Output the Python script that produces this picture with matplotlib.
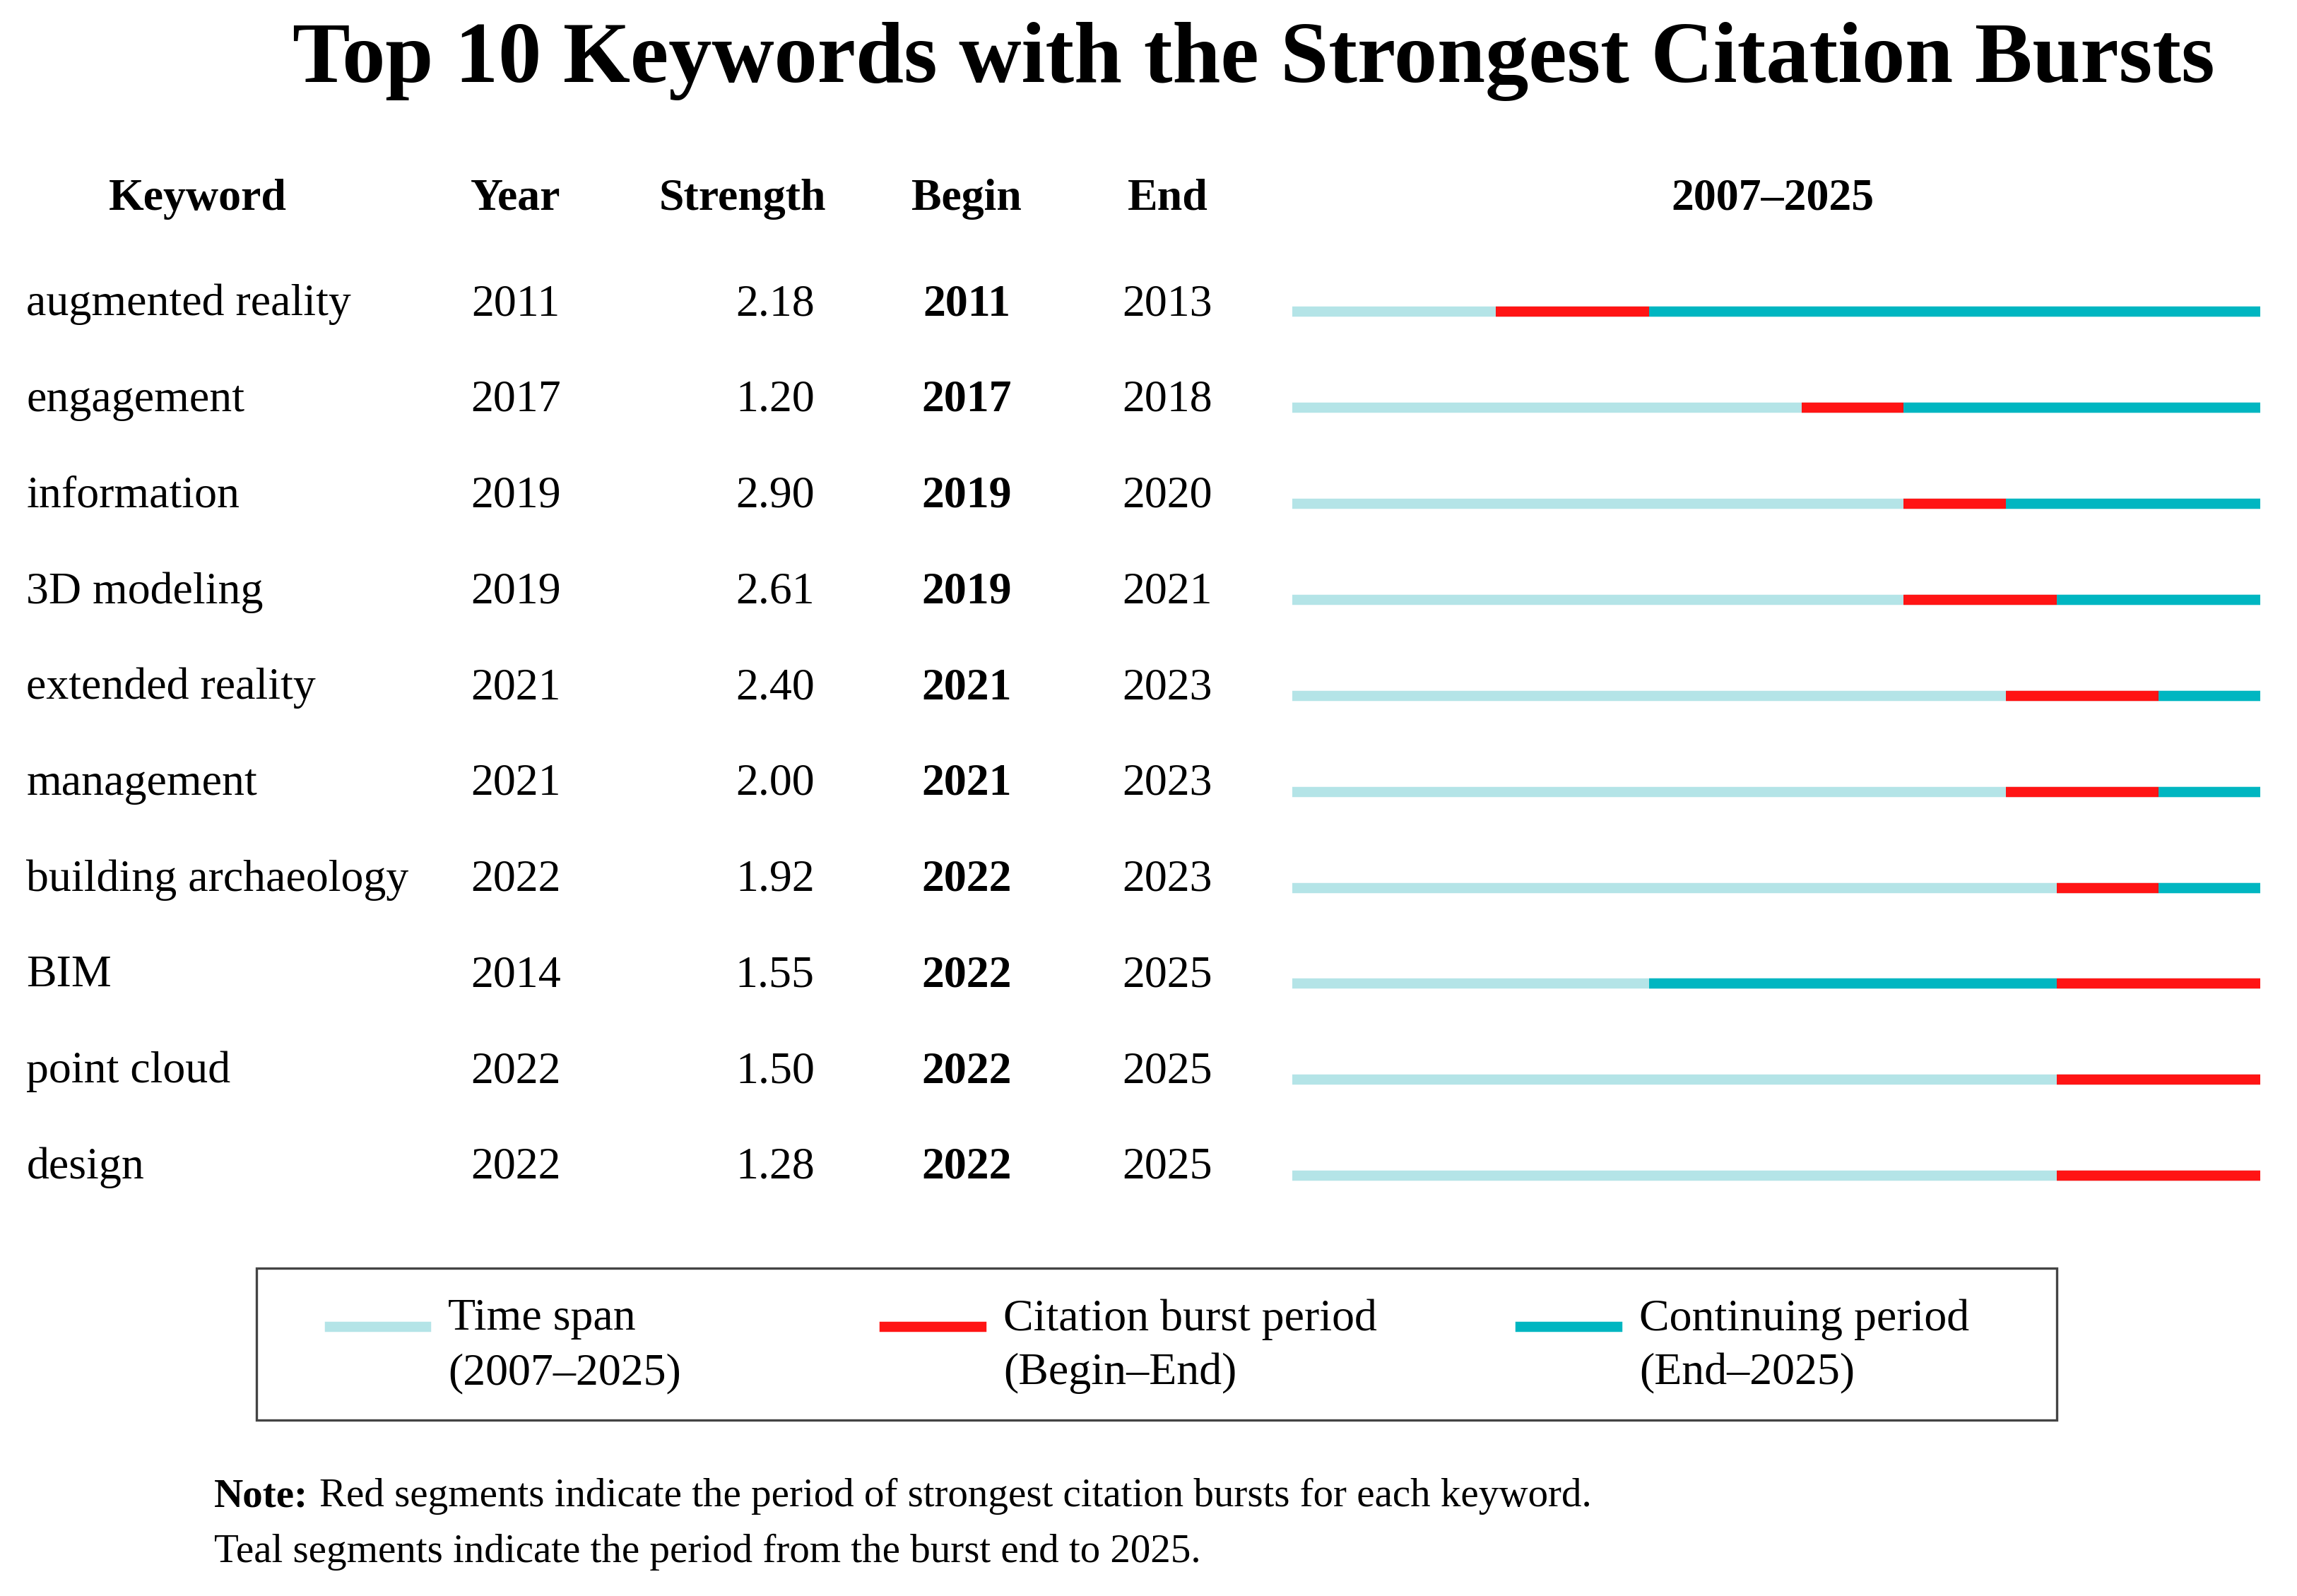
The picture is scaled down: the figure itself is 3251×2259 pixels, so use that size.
import matplotlib.pyplot as plt
from matplotlib.patches import Rectangle

plt.rcParams['font.family'] = ['Liberation Serif', 'DejaVu Serif']

keywords = ["augmented reality", "engagement", "information", "3D modeling",
            "extended reality", "management", "building archaeology", "BIM",
            "point cloud", "design"]
years = [2011, 2017, 2019, 2019, 2021, 2021, 2022, 2014, 2022, 2022]
strength = [2.18, 1.20, 2.90, 2.61, 2.40, 2.00, 1.92, 1.55, 1.50, 1.28]
begin = [2011, 2017, 2019, 2019, 2021, 2021, 2022, 2022, 2022, 2022]
end = [2013, 2018, 2020, 2021, 2023, 2023, 2023, 2025, 2025, 2025]
# teal (continuing) segment per row, in years [start, stop)
teal_start = [2014, 2019, 2021, 2022, 2024, 2024, 2024, 2014, 2026, 2026]
teal_stop = [2026, 2026, 2026, 2026, 2026, 2026, 2026, 2022, 2026, 2026]
span_start, span_end = 2007, 2025

LIGHT = "#b4e4e7"
RED = "#ff1414"
TEAL = "#00b6c1"

W, H = 1568, 1090
fig = plt.figure(figsize=(16.255, 11.295), dpi=200)


def fx(px):
    return px / W


def fy(py):
    return 1 - py / H


FS = 23
fig.text(fx(856), fy(42), "Top 10 Keywords with the Strongest Citation Bursts",
         ha="center", va="center", fontsize=44, fontweight="bold")

hdr_y = fy(136)
fig.text(fx(135), hdr_y, "Keyword", ha="center", va="center", fontsize=FS, fontweight="bold")
fig.text(fx(352), hdr_y, "Year", ha="center", va="center", fontsize=FS, fontweight="bold")
fig.text(fx(507), hdr_y, "Strength", ha="center", va="center", fontsize=FS, fontweight="bold")
fig.text(fx(660), hdr_y, "Begin", ha="center", va="center", fontsize=FS, fontweight="bold")
fig.text(fx(797), hdr_y, "End", ha="center", va="center", fontsize=FS, fontweight="bold")
fig.text(fx(1210), hdr_y, f"{span_start}\u2013{span_end}", ha="center", va="center",
         fontsize=FS, fontweight="bold")

for i, kw in enumerate(keywords):
    y = fy(208 + 65.5 * i)
    fig.text(fx(18), y, kw, ha="left", va="center", fontsize=FS)
    fig.text(fx(352), y, str(years[i]), ha="center", va="center", fontsize=FS)
    fig.text(fx(556), y, f"{strength[i]:.2f}", ha="right", va="center", fontsize=FS)
    fig.text(fx(660), y, str(begin[i]), ha="center", va="center", fontsize=FS, fontweight="bold")
    fig.text(fx(797), y, str(end[i]), ha="center", va="center", fontsize=FS)

# bars axes
top_px, bot_px = 213 - 32.8, 803 + 32.8
ax = fig.add_axes([fx(882), fy(bot_px), fx(1543) - fx(882), (bot_px - top_px) / H])
ax.set_xlim(span_start, span_end + 1)
ax.set_ylim(9.5, -0.5)
ax.axis("off")
lw = 5.2
for i in range(len(keywords)):
    ax.hlines(i, span_start, span_end + 1, color=LIGHT, lw=lw)
    if teal_stop[i] > teal_start[i]:
        ax.hlines(i, teal_start[i], teal_stop[i], color=TEAL, lw=lw)
    ax.hlines(i, begin[i], end[i] + 1, color=RED, lw=lw)

# legend box
fig.patches.append(Rectangle((fx(175), fy(970)), fx(1404) - fx(175), (970 - 866) / H,
                             transform=fig.transFigure, fill=False, edgecolor="#444444", lw=1.2))
leg = [(225, LIGHT, "Time span", f"({span_start}\u2013{span_end})"),
       (604, RED, "Citation burst period", "(Begin\u2013End)"),
       (1038, TEAL, "Continuing period", f"(End\u2013{span_end})")]
for x0, c, l1, l2 in leg:
    fig.lines.append(plt.Line2D([fx(x0), fx(x0 + 66)], [fy(906), fy(906)],
                                transform=fig.transFigure, color=c, lw=lw))
    fig.text(fx(x0 + 81), fy(901), l1, ha="left", va="center", fontsize=FS)
    fig.text(fx(x0 + 81), fy(938), l2, ha="left", va="center", fontsize=FS)

fig.text(fx(146), fy(1022), "Note:", ha="left", va="center", fontsize=20.5, fontweight="bold")
fig.text(fx(218), fy(1022), "Red segments indicate the period of strongest citation bursts for each keyword.",
         ha="left", va="center", fontsize=20.5)
fig.text(fx(146), fy(1060), "Teal segments indicate the period from the burst end to 2025.",
         ha="left", va="center", fontsize=20.5)

fig.savefig("out.png", dpi=200)
